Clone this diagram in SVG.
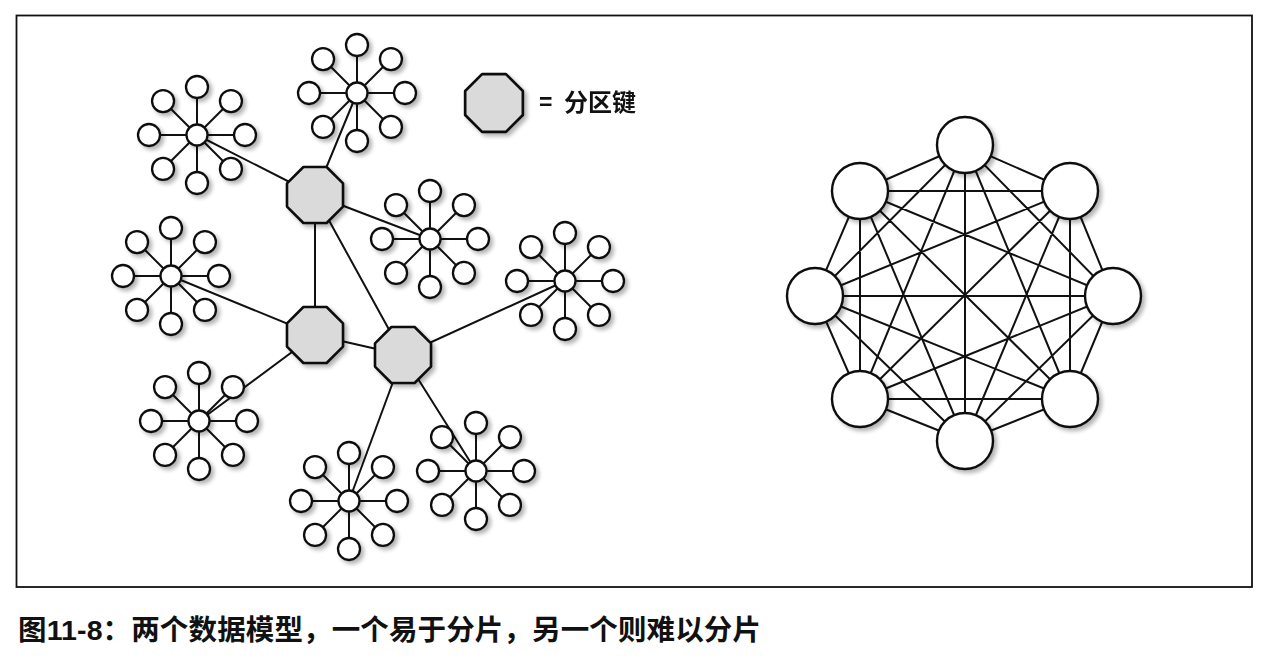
<svg xmlns="http://www.w3.org/2000/svg" xmlns:xlink="http://www.w3.org/1999/xlink" width="1282" height="664" viewBox="0 0 1282 664">
<style>
.ln{stroke:#111;stroke-width:2;fill:none;stroke-linecap:round}
.sc{fill:#fff;stroke:#111;stroke-width:2.3}
.oct{fill:#dadada;stroke:#111;stroke-width:2.6;stroke-linejoin:round}
.big{fill:#fff;stroke:#111;stroke-width:2.4}
.txt{font-family:"Liberation Sans","Noto Sans CJK SC",sans-serif;font-weight:bold;fill:#111}
</style>
<defs>
<filter id="ds" x="-30%" y="-30%" width="160%" height="160%">
<feGaussianBlur in="SourceAlpha" stdDeviation="2"/>
<feOffset dx="3" dy="3" result="b"/>
<feComponentTransfer><feFuncA type="linear" slope="0.3"/></feComponentTransfer>
<feMerge><feMergeNode/><feMergeNode in="SourceGraphic"/></feMerge>
</filter>
<g id="spk">
<line x1="0" y1="0" x2="0" y2="-48"/><line x1="0" y1="0" x2="33.94" y2="-33.94"/>
<line x1="0" y1="0" x2="48" y2="0"/><line x1="0" y1="0" x2="33.94" y2="33.94"/>
<line x1="0" y1="0" x2="0" y2="48"/><line x1="0" y1="0" x2="-33.94" y2="33.94"/>
<line x1="0" y1="0" x2="-48" y2="0"/><line x1="0" y1="0" x2="-33.94" y2="-33.94"/>
</g>
<g id="star">
<circle cx="0" cy="0" r="10.5"/>
<circle cx="0" cy="-48" r="11"/><circle cx="33.94" cy="-33.94" r="11"/>
<circle cx="48" cy="0" r="11"/><circle cx="33.94" cy="33.94" r="11"/>
<circle cx="0" cy="48" r="11"/><circle cx="-33.94" cy="33.94" r="11"/>
<circle cx="-48" cy="0" r="11"/><circle cx="-33.94" cy="-33.94" r="11"/>
</g>
<polygon id="octa" points="-11.6,-28 11.6,-28 28,-11.6 28,11.6 11.6,28 -11.6,28 -28,11.6 -28,-11.6"/>
</defs>
<rect x="0" y="0" width="1282" height="664" fill="#fff"/>
<rect x="16.5" y="15.5" width="1235.5" height="571.5" fill="none" stroke="#111" stroke-width="1.8"/>

<g id="connectors" class="ln">
<use xlink:href="#spk" href="#spk" transform="translate(197,135)"/>
<use xlink:href="#spk" href="#spk" transform="translate(357,93)"/>
<use xlink:href="#spk" href="#spk" transform="translate(430,239)"/>
<use xlink:href="#spk" href="#spk" transform="translate(171,276)"/>
<use xlink:href="#spk" href="#spk" transform="translate(565,281)"/>
<use xlink:href="#spk" href="#spk" transform="translate(199,421)"/>
<use xlink:href="#spk" href="#spk" transform="translate(349,501)"/>
<use xlink:href="#spk" href="#spk" transform="translate(476,471)"/>
<line x1="197" y1="135" x2="315" y2="195"/>
<line x1="357" y1="93" x2="315" y2="195"/>
<line x1="430" y1="239" x2="315" y2="195"/>
<line x1="315" y1="195" x2="315" y2="335"/>
<line x1="315" y1="195" x2="403" y2="355"/>
<line x1="315" y1="335" x2="403" y2="355"/>
<line x1="171" y1="276" x2="315" y2="335"/>
<line x1="199" y1="421" x2="315" y2="335"/>
<line x1="565" y1="281" x2="403" y2="355"/>
<line x1="349" y1="501" x2="403" y2="355"/>
<line x1="476" y1="471" x2="403" y2="355"/>
<path d="M965,145L860,191M965,145L815,296M965,145L860,399M965,145L965,441M965,145L1070,399M965,145L1113,296M965,145L1070,191
M860,191L815,296M860,191L860,399M860,191L965,441M860,191L1070,399M860,191L1113,296M860,191L1070,191
M815,296L860,399M815,296L965,441M815,296L1070,399M815,296L1113,296M815,296L1070,191
M860,399L965,441M860,399L1070,399M860,399L1113,296M860,399L1070,191
M965,441L1070,399M965,441L1113,296M965,441L1070,191
M1070,399L1113,296M1070,399L1070,191
M1113,296L1070,191"/>
</g>

<g class="sc" filter="url(#ds)">
<g id="star1"><use xlink:href="#star" href="#star" transform="translate(197,135)"/></g>
<g id="star2"><use xlink:href="#star" href="#star" transform="translate(357,93)"/></g>
<g id="star3"><use xlink:href="#star" href="#star" transform="translate(430,239)"/></g>
<g id="star4"><use xlink:href="#star" href="#star" transform="translate(171,276)"/></g>
<g id="star5"><use xlink:href="#star" href="#star" transform="translate(565,281)"/></g>
<g id="star6"><use xlink:href="#star" href="#star" transform="translate(199,421)"/></g>
<g id="star7"><use xlink:href="#star" href="#star" transform="translate(349,501)"/></g>
<g id="star8"><use xlink:href="#star" href="#star" transform="translate(476,471)"/></g>
</g>

<g class="oct" filter="url(#ds)">
<g id="key1"><use xlink:href="#octa" href="#octa" transform="translate(315,195)"/></g>
<g id="key2"><use xlink:href="#octa" href="#octa" transform="translate(315,335)"/></g>
<g id="key3"><use xlink:href="#octa" href="#octa" transform="translate(403,355)"/></g>
</g>

<g id="legend">
<use class="oct" filter="url(#ds)" xlink:href="#octa" href="#octa" transform="translate(494,103) scale(1.03)"/>
<text class="txt" x="539" y="110" font-size="23">=</text>
<text class="txt" x="564" y="111" font-size="24">分区键</text>
</g>

<g class="big" filter="url(#ds)">
<circle id="n1" cx="965" cy="145" r="28"/>
<circle id="n2" cx="1070" cy="191" r="28"/>
<circle id="n3" cx="1113" cy="296" r="28"/>
<circle id="n4" cx="1070" cy="399" r="28"/>
<circle id="n5" cx="965" cy="441" r="28"/>
<circle id="n6" cx="860" cy="399" r="28"/>
<circle id="n7" cx="815" cy="296" r="28"/>
<circle id="n8" cx="860" cy="191" r="28"/>
</g>

<text id="caption" class="txt" x="18" y="640" font-size="28.5" textLength="743" lengthAdjust="spacing">图11-8：两个数据模型，一个易于分片，另一个则难以分片</text>
</svg>
